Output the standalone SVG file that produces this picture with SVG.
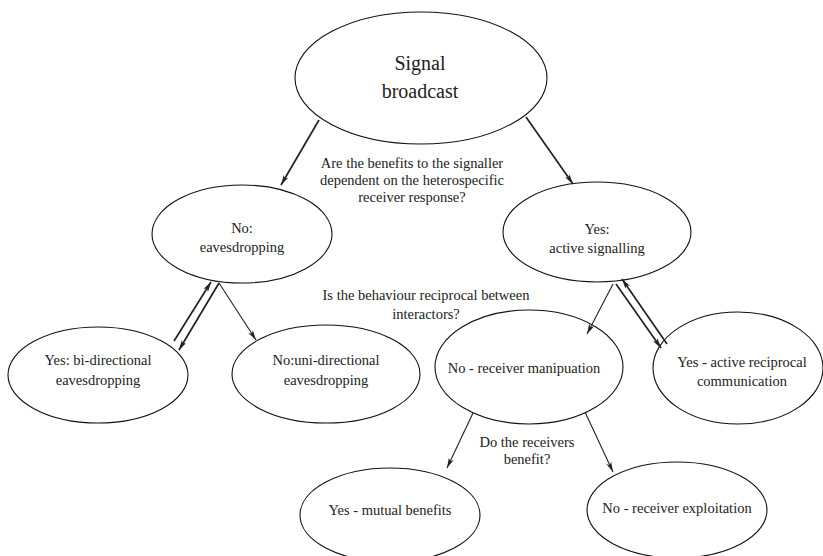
<svg xmlns="http://www.w3.org/2000/svg" width="823" height="556" viewBox="0 0 823 556">
<defs>
<style>
.node ellipse{fill:#fff;stroke:#111;stroke-width:1.1}
text{font-family:'Liberation Serif','Liberation Sans',serif;fill:#222;text-anchor:middle}
.t{font-size:14.5px}
.big{font-size:20px}
.edges line{stroke:#222;stroke-width:1.1}
.edges line.thick{stroke-width:1.7}
</style>
<marker id="ah" viewBox="0 0 10 6" refX="10" refY="3" markerWidth="10" markerHeight="6" markerUnits="userSpaceOnUse" orient="auto">
<path d="M0,0.3 L10,3 L0,5.7 L2.5,3 Z" fill="#222"/>
</marker>
</defs>
<rect width="823" height="556" fill="#fff"/>
<g id="signal-broadcast" class="node">
<ellipse cx="421" cy="78" rx="126" ry="66"/>
<text class="big" x="420" y="70">Signal</text>
<text class="big" x="420" y="98">broadcast</text>
</g>
<g id="eavesdropping" class="node">
<ellipse cx="242" cy="234" rx="90" ry="49"/>
<text class="t" x="242" y="233">No:</text>
<text class="t" x="242" y="252">eavesdropping</text>
</g>
<g id="active-signalling" class="node">
<ellipse cx="597" cy="232" rx="94" ry="50"/>
<text class="t" x="597" y="234">Yes:</text>
<text class="t" x="597" y="253">active signalling</text>
</g>
<g id="bi-directional" class="node">
<ellipse cx="98" cy="375" rx="90" ry="48"/>
<text class="t" x="98" y="365">Yes: bi-directional</text>
<text class="t" x="98" y="385">eavesdropping</text>
</g>
<g id="uni-directional" class="node">
<ellipse cx="326" cy="374" rx="94" ry="49"/>
<text class="t" x="326" y="365">No:uni-directional</text>
<text class="t" x="326" y="385">eavesdropping</text>
</g>
<g id="receiver-manipulation" class="node">
<ellipse cx="529" cy="367" rx="94" ry="57"/>
<text class="t" x="524" y="373">No - receiver manipuation</text>
</g>
<g id="active-reciprocal" class="node">
<ellipse cx="738" cy="368" rx="85" ry="56"/>
<text class="t" x="742" y="367">Yes - active reciprocal</text>
<text class="t" x="742" y="386">communication</text>
</g>
<g id="mutual-benefits" class="node">
<ellipse cx="390" cy="515" rx="90" ry="47"/>
<text class="t" x="390" y="515">Yes - mutual benefits</text>
</g>
<g id="receiver-exploitation" class="node">
<ellipse cx="677" cy="510" rx="90" ry="48"/>
<text class="t" x="677" y="513">No - receiver exploitation</text>
</g>
<g id="labels">
<text class="t" x="412" y="168">Are the benefits to the signaller</text>
<text class="t" x="412" y="185">dependent on the heterospecific</text>
<text class="t" x="412" y="202">receiver response?</text>
<text class="t" x="426" y="300">Is the behaviour reciprocal between</text>
<text class="t" x="426" y="319">interactors?</text>
<text class="t" x="527" y="447">Do the receivers</text>
<text class="t" x="527" y="464">benefit?</text>
</g>
<g id="connectors" class="edges">
<line class="thick" x1="319" y1="120" x2="281" y2="185" marker-end="url(#ah)"/>
<line class="thick" x1="526" y1="117" x2="573" y2="184" marker-end="url(#ah)"/>
<line class="thick" x1="174" y1="341" x2="211" y2="282" marker-end="url(#ah)"/>
<line class="thick" x1="219" y1="283" x2="179" y2="350" marker-end="url(#ah)"/>
<line x1="219" y1="283" x2="256" y2="340" marker-end="url(#ah)"/>
<line x1="613" y1="284" x2="587" y2="334" marker-end="url(#ah)"/>
<line class="thick" x1="616" y1="284" x2="661" y2="348" marker-end="url(#ah)"/>
<line class="thick" x1="667" y1="344" x2="622" y2="279" marker-end="url(#ah)"/>
<line x1="473" y1="413" x2="447" y2="468" marker-end="url(#ah)"/>
<line x1="585" y1="412" x2="613" y2="472" marker-end="url(#ah)"/>
</g>
</svg>
